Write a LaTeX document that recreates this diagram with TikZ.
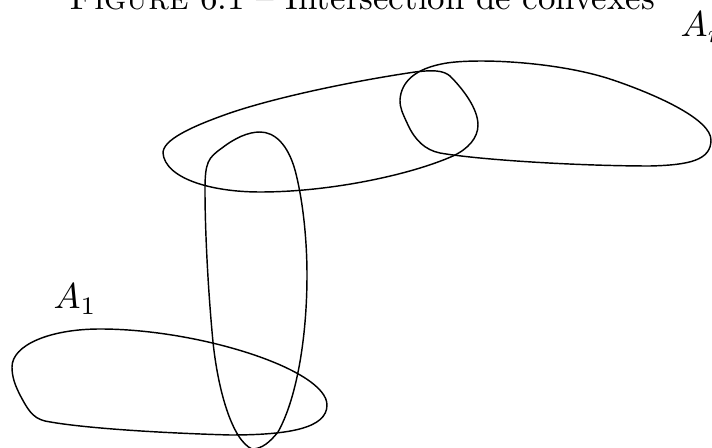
\documentclass[tikz,border=0pt]{standalone}

\begin{document}
\begin{tikzpicture}[x=0.2778pt, y=-0.2778pt, convexe/.style={line width=0.4pt}]
    \clip (0,0) rectangle (712,448);
    \node[anchor=base, scale=0.97] (titre) at (362,9) {\textsc{Figure} 6.1 -- Intersection de convexes};
    \node[anchor=base west, inner sep=0pt] (an) at (680,37) {$A_n$};
    \node[anchor=base west, inner sep=0pt] (a1) at (53,309) {$A_1$};
    % A_1
    \draw[convexe] (12,367) .. controls (12,345) and (50,329) .. (100,329)
        .. controls (200,329) and (327,370) .. (327,405)
        .. controls (327,428) and (290,435) .. (230,435)
        .. controls (160,433) and (80,428) .. (45,421)
        .. controls (32,418) and (27,408) .. (20,395)
        .. controls (15,385) and (12,377) .. (12,367) -- cycle;
    % le convexe vertical
    \draw[convexe] (252,449) .. controls (232,440) and (218,390) .. (213,342)
        .. controls (208,290) and (205,230) .. (205,190)
        .. controls (205,162) and (208,158) .. (222,148)
        .. controls (235,138) and (248,132) .. (260,132)
        .. controls (275,132) and (288,145) .. (295,170)
        .. controls (303,200) and (307,240) .. (307,275)
        .. controls (307,340) and (296,400) .. (278,432)
        .. controls (270,442) and (262,449) .. (252,449) -- cycle;
    % le convexe incline
    \draw[convexe] (163,153) .. controls (165,178) and (210,192) .. (260,192)
        .. controls (330,192) and (410,175) .. (453,156)
        .. controls (468,149) and (478,138) .. (478,125)
        .. controls (478,108) and (462,88) .. (450,76)
        .. controls (443,70) and (432,70) .. (415,72)
        .. controls (360,80) and (280,96) .. (230,113)
        .. controls (190,127) and (163,140) .. (163,153) -- cycle;
    % A_n
    \draw[convexe] (400,100) .. controls (401,82) and (415,68) .. (447,63)
        .. controls (480,58) and (560,62) .. (613,80)
        .. controls (660,96) and (711,120) .. (711,140)
        .. controls (711,160) and (690,165) .. (650,166)
        .. controls (580,166) and (480,160) .. (440,153)
        .. controls (425,150) and (415,140) .. (408,125)
        .. controls (402,112) and (400,108) .. (400,100) -- cycle;
\end{tikzpicture}
\end{document}
